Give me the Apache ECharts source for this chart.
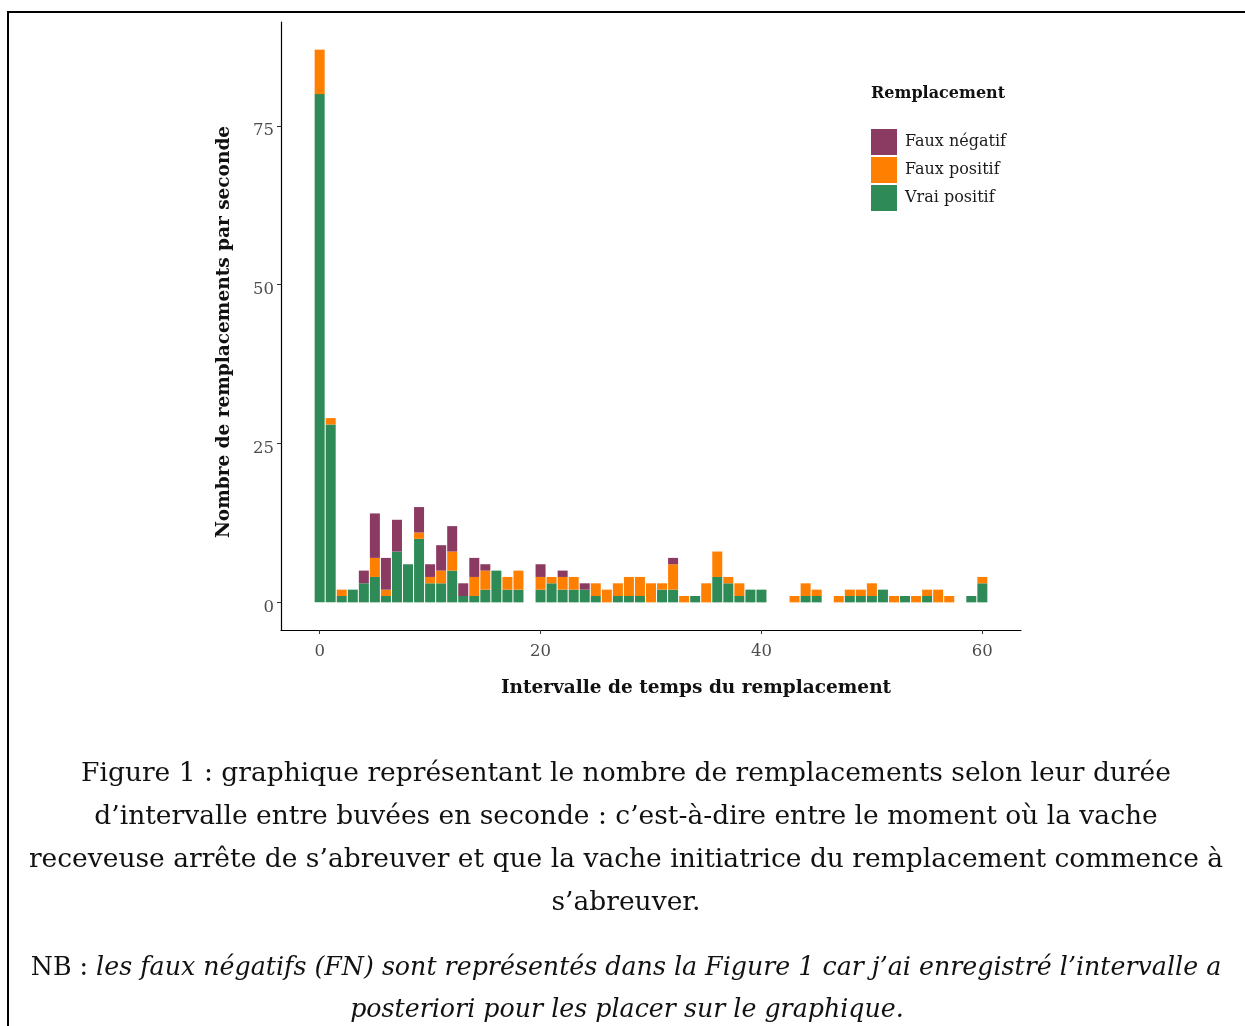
<!DOCTYPE html>
<html><head><meta charset="utf-8">
<script src="https://cdn.jsdelivr.net/npm/echarts@6/dist/echarts.min.js"></script>
<style>html,body{margin:0;padding:0;background:#fff}#c{width:1245px;height:1026px}</style>
</head><body><div id="c"></div>
<script>
const intervals = [0,1,2,3,4,5,6,7,8,9,10,11,12,13,14,15,16,17,18,19,20,21,22,23,24,25,26,27,28,29,30,31,32,33,34,35,36,37,38,39,40,41,42,43,44,45,46,47,48,49,50,51,52,53,54,55,56,57,58,59,60];
const vraiPositif = [80,28,1,2,3,4,1,8,6,10,3,3,5,1,1,2,5,2,2,0,2,3,2,2,2,1,0,1,1,1,0,2,2,0,1,0,4,3,1,2,2,0,0,0,1,1,0,0,1,1,1,2,0,1,0,1,0,0,0,1,3];
const fauxPositif = [7,1,1,0,0,3,1,0,0,1,1,2,3,0,3,3,0,2,3,0,2,1,2,2,0,2,2,2,3,3,3,1,4,1,0,3,4,1,2,0,0,0,0,1,2,1,0,1,1,1,2,0,1,0,1,1,2,1,0,0,1];
const fauxNegatif = [0,0,0,0,2,7,5,5,0,4,2,4,4,2,3,1,0,0,0,0,2,0,1,0,1,0,0,0,0,0,0,0,1,0,0,0,0,0,0,0,0,0,0,0,0,0,0,0,0,0,0,0,0,0,0,0,0,0,0,0,0];
const yTicks = [0,25,50,75];
const xTicks = [0,20,40,60];
const xAxisFrom = -3, xAxisTo = 63;
const seriesNames = ['Vrai positif','Faux positif','Faux négatif'];
const legendOrder = ['Faux négatif','Faux positif','Vrai positif'];
const colors = {'Vrai positif':'#2E8B57','Faux positif':'#FF7F00','Faux négatif':'#8B3A62'};
const caption = [
 'Figure 1 : graphique représentant le nombre de remplacements selon leur durée',
 'd’intervalle entre buvées en seconde : c’est-à-dire entre le moment où la vache',
 'receveuse arrête de s’abreuver et que la vache initiatrice du remplacement commence à',
 's’abreuver.'
];
const nbLabel = 'NB : ';
const nbText1 = 'les faux négatifs (FN) sont représentés dans la Figure 1 car j’ai enregistré l’intervalle a';
const nbText2 = 'posteriori pour les placer sur le graphique.';

const serif = '"DejaVu Serif", "Liberation Serif", serif';
const chart = echarts.init(document.getElementById('c'));
const categories = [];
for (let v = xAxisFrom; v <= xAxisTo; v++) categories.push(String(v));
const valuesBy = {'Vrai positif':vraiPositif,'Faux positif':fauxPositif,'Faux négatif':fauxNegatif};
const series = seriesNames.map(n => ({
  name: n, type: 'bar', stack: 'total', barWidth: 10,
  itemStyle: {color: colors[n]},
  data: categories.map(c => { const i = intervals.indexOf(Number(c)); return i < 0 ? 0 : valuesBy[n][i]; })
}));
const isTick = (idx, val) => xTicks.indexOf(Number(val)) >= 0;
const capY = [774, 817, 860, 903];
const capFont = '26.5px ' + serif;
const nbFont = '25.3px ' + serif;
const graphics = [
  {type:'polyline', shape:{points:[[8,1040],[8,12],[1260,12]]}, style:{stroke:'#000', lineWidth:2, fill:null}},
  {type:'text', x:696, y:688, style:{text:'Intervalle de temps du remplacement', font:'bold 18.5px '+serif, fill:'#111', align:'center', verticalAlign:'middle'}},
  {type:'text', x:224, y:332, rotation:Math.PI/2, style:{text:'Nombre de remplacements par seconde', font:'bold 18.5px '+serif, fill:'#111', align:'center', verticalAlign:'middle'}},
  {type:'text', x:871, y:94, style:{text:'Remplacement', font:'bold 16px '+serif, fill:'#111', align:'left', verticalAlign:'middle'}}
];
caption.forEach((t,i) => graphics.push({type:'text', x:626, y:capY[i], style:{text:t, font:capFont, fill:'#111', align:'center', verticalAlign:'middle'}}));
graphics.push({type:'text', x:626, y:968, style:{text:'{n|'+nbLabel+'}{i|'+nbText1+'}', align:'center', verticalAlign:'middle', rich:{n:{font:nbFont, fill:'#111'}, i:{font:'italic '+nbFont, fill:'#111'}}}});
graphics.push({type:'text', x:627, y:1010, style:{text:nbText2, font:'italic '+nbFont, fill:'#111', align:'center', verticalAlign:'middle'}});

chart.setOption({
  animation:false,
  backgroundColor:'#fff',
  grid:{left:281, right:224, top:22, bottom:396},
  legend:{data:legendOrder, orient:'vertical', left:871, top:129, padding:0, itemWidth:26, itemHeight:26, itemGap:2, icon:'rect',
    textStyle:{fontFamily:serif, fontSize:16, color:'#1a1a1a', padding:[0,0,0,3]}},
  xAxis:{type:'category', data:categories, boundaryGap:true,
    axisLine:{show:true, onZero:false, lineStyle:{color:'#000', width:1.2}},
    axisTick:{show:true, interval:isTick, alignWithLabel:true, length:4, lineStyle:{color:'#333'}},
    axisLabel:{interval:isTick, color:'#4d4d4d', fontFamily:serif, fontSize:16.5, margin:13},
    splitLine:{show:false}},
  yAxis:{type:'value', min:-4.35, max:91.35,
    axisLine:{show:true, onZero:false, lineStyle:{color:'#000', width:1.2}},
    axisTick:{show:true, customValues:yTicks, length:4, lineStyle:{color:'#333'}},
    axisLabel:{customValues:yTicks, color:'#4d4d4d', fontFamily:serif, fontSize:16.5, margin:7, verticalAlign:'top', lineHeight:10},
    splitLine:{show:false}},
  graphic:graphics,
  series:series
});
</script></body></html>
